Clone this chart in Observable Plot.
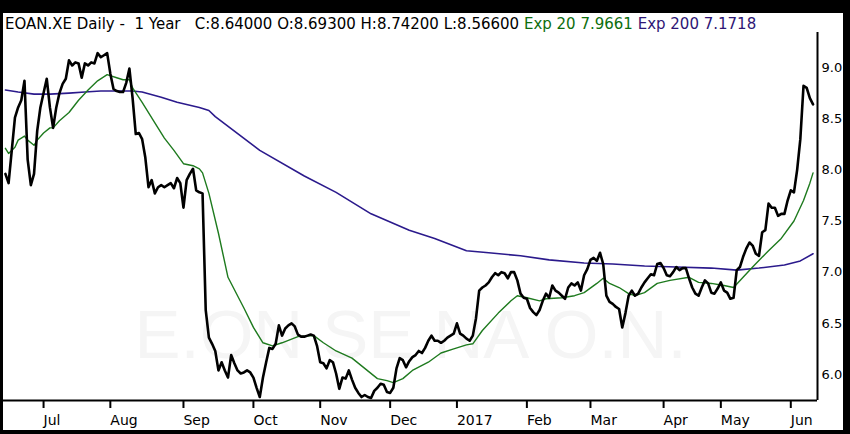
<!DOCTYPE html>
<html><head><meta charset="utf-8">
<script src="https://cdn.jsdelivr.net/npm/d3@7"></script>
<script src="https://cdn.jsdelivr.net/npm/@observablehq/plot@0.6"></script>
<style>
html,body{margin:0;padding:0;background:#000;width:850px;height:434px;overflow:hidden}
#frame{position:absolute;left:3px;top:13px;width:840px;height:417px;background:#fff;overflow:hidden}
#hdr{position:absolute;left:2px;top:2px;font-family:"DejaVu Sans";font-size:15px;line-height:18px;white-space:pre;color:#000}
#chart{position:absolute;left:0;top:19px}
</style></head><body>
<div id="frame"><div id="hdr"></div><div id="chart"></div></div>
<script>
// Header texts
const headerMain = "EOAN.XE Daily -  1 Year   C:8.64000 O:8.69300 H:8.74200 L:8.56600 ";
const headerEma20 = "Exp 20 7.9661 ";
const headerEma200 = "Exp 200 7.1718";
const watermark = "E.ON SE NA O.N.";

// Daily close, one value per trading day (day index 0 = mid June 2016)
const closeValues = [
7.96,7.87,8.19,8.51,8.61,8.68,8.87,8.10,7.85,7.96,
8.38,8.61,8.75,8.89,8.61,8.41,8.61,8.75,8.84,8.89,
9.07,9.02,9.05,9.04,8.90,9.04,9.02,9.05,9.04,9.14,
9.10,9.12,9.14,8.94,8.79,8.77,8.76,8.76,8.85,8.99,
8.70,8.35,8.36,8.30,8.12,7.83,7.90,7.77,7.83,7.85,
7.83,7.85,7.87,7.82,7.92,7.87,7.63,7.90,7.96,8.01,
7.80,7.78,7.77,6.63,6.36,6.30,6.23,6.04,6.12,6.04,
5.97,6.19,6.11,6.04,6.01,6.02,6.04,6.02,5.97,5.87,
5.78,5.97,6.12,6.26,6.25,6.30,6.48,6.38,6.45,6.48,
6.50,6.47,6.39,6.37,6.37,6.38,6.39,6.38,6.28,6.12,
6.11,6.06,6.14,6.12,6.01,5.86,5.97,5.96,6.04,5.95,
5.87,5.82,5.78,5.80,5.78,5.77,5.84,5.87,5.91,5.90,
5.83,5.82,5.87,6.06,6.16,6.14,6.07,6.13,6.17,6.19,
6.23,6.21,6.26,6.33,6.38,6.33,6.33,6.31,6.33,6.36,
6.38,6.40,6.50,6.40,6.38,6.35,6.33,6.38,6.55,6.82,
6.85,6.87,6.90,6.95,6.99,6.97,7.00,6.99,6.94,7.00,
7.00,6.92,6.79,6.75,6.74,6.65,6.61,6.58,6.63,6.72,
6.79,6.75,6.87,6.82,6.80,6.77,6.74,6.85,6.89,6.87,
6.90,6.82,6.97,7.03,7.12,7.14,7.11,7.19,7.08,6.77,
6.71,6.69,6.66,6.64,6.46,6.60,6.77,6.82,6.77,6.79,
6.85,6.90,6.94,6.98,6.97,7.08,7.09,7.04,6.97,6.96,
7.00,7.05,7.02,7.04,7.04,6.94,6.85,6.79,6.77,6.85,
6.92,6.89,6.80,6.79,6.84,6.90,6.82,6.80,6.74,6.75,
7.02,7.05,7.15,7.23,7.29,7.26,7.18,7.16,7.39,7.41,
7.67,7.63,7.63,7.55,7.57,7.57,7.70,7.80,7.78,8.00,
8.30,8.82,8.80,8.70,8.64];

// Exponential 20
const ema20Days = [0,1,3,4,6,7,9,10,12,14,15,17,20,23,26,29,32,35,37,39,40,43,47,50,53,56,59,61,62,64,67,70,75,78,81,84,87,92,97,100,104,109,113,117,120,122,125,128,133,137,141,145,147,150,155,159,161,164,168,170,175,179,182,186,188,190,193,196,198,201,205,209,215,218,222,226,229,232,235,240,244,248,251,253,254];
const ema20Values = [8.21,8.16,8.22,8.29,8.33,8.29,8.24,8.29,8.36,8.41,8.41,8.48,8.56,8.68,8.78,8.87,8.93,8.90,8.88,8.88,8.80,8.66,8.46,8.31,8.19,8.06,8.04,8.01,7.97,7.77,7.38,6.95,6.65,6.46,6.31,6.28,6.31,6.37,6.38,6.31,6.23,6.16,6.06,5.96,5.94,5.92,5.96,6.04,6.12,6.21,6.25,6.29,6.30,6.43,6.60,6.72,6.77,6.75,6.72,6.74,6.75,6.77,6.80,6.89,6.94,6.89,6.85,6.79,6.77,6.80,6.89,6.92,6.95,6.90,6.89,6.87,6.85,6.95,7.05,7.21,7.33,7.50,7.70,7.87,7.97];

// Exponential 200
const ema200Days = [0,4,9,14,20,25,30,35,40,43,49,54,61,64,66,80,94,104,115,127,135,145,152,162,171,182,191,201,211,222,230,237,245,250,254];
const ema200Values = [8.78,8.76,8.74,8.74,8.75,8.76,8.77,8.77,8.77,8.76,8.71,8.66,8.61,8.58,8.52,8.19,7.94,7.78,7.57,7.41,7.33,7.21,7.19,7.16,7.12,7.09,7.08,7.06,7.05,7.04,7.02,7.04,7.07,7.11,7.18];

// Axis ticks: first trading day of each month
const tickDays = [12,33,56,78,99,121,142,164,184,207,225,247];
const tickLabels = ["Jul","Aug","Sep","Oct","Nov","Dec","2017","Feb","Mar","Apr","May","Jun"];
const yTicks = [6.0,6.5,7.0,7.5,8.0,8.5,9.0];

const closeData = closeValues.map((v, i) => ({day: i, value: v}));
const ema20 = ema20Days.map((d, i) => ({day: d, value: ema20Values[i]}));
const ema200 = ema200Days.map((d, i) => ({day: d, value: ema200Values[i]}));
const labelOf = new Map(tickDays.map((d, i) => [d, tickLabels[i]]));

const xDomain = [-0.6, 255.4];
const yDomain = [5.746, 9.342];

const hdr = document.getElementById("hdr");
const s1 = document.createElement("span"); s1.textContent = headerMain; s1.style.color = "#000";
const s2 = document.createElement("span"); s2.textContent = headerEma20; s2.style.color = "#0d6e0d";
const s3 = document.createElement("span"); s3.textContent = headerEma200; s3.style.color = "#2e1675";
hdr.append(s1, s2, s3);

const chart = Plot.plot({
  width: 840, height: 398,
  marginLeft: 0, marginRight: 26, marginTop: 0, marginBottom: 30,
  style: {background: "transparent", fontFamily: "DejaVu Sans", fontSize: "14px", color: "#000", overflow: "visible"},
  x: {domain: xDomain, axis: null},
  y: {domain: yDomain, axis: null},
  marks: [
    Plot.text([watermark], {frameAnchor: "middle", dy: 119, fontSize: 69, fontFamily: "Liberation Sans", fill: "#f5f5f5"}),
    Plot.line(ema200, {x: "day", y: "value", stroke: "#2b1a8c", strokeWidth: 1.6}),
    Plot.line(ema20, {x: "day", y: "value", stroke: "#1e7a1e", strokeWidth: 1.4}),
    Plot.line(closeData, {x: "day", y: "value", stroke: "#000", strokeWidth: 2.6}),
    Plot.axisX({ticks: tickDays, tickFormat: d => labelOf.get(d), textAnchor: "start", tickSize: 8, tickPadding: 7, strokeWidth: 2, fontSize: 14, label: null, fill: "#000"}),
    Plot.axisY({anchor: "right", ticks: yTicks, tickFormat: d3.format(".1f"), tickSize: 0, tickPadding: 4, fontSize: 13, label: null, fill: "#000"}),
    Plot.ruleY([yDomain[0]], {stroke: "#000", strokeWidth: 2}),
    Plot.ruleX([xDomain[1]], {stroke: "#000", strokeWidth: 2})
  ]
});
document.getElementById("chart").append(chart);
</script>
</body></html>
